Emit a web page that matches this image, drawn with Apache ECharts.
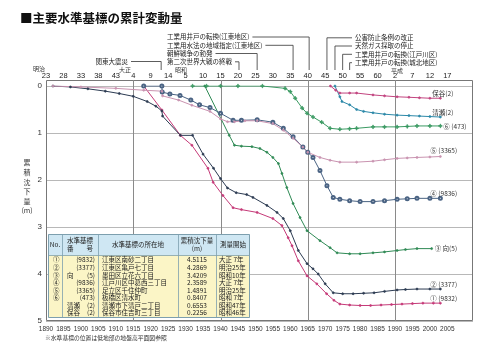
<!DOCTYPE html>
<html><head><meta charset="utf-8">
<script src="https://cdn.jsdelivr.net/npm/echarts@6/dist/echarts.min.js"></script>
<style>html,body{margin:0;padding:0;background:#fff}#c{width:499px;height:348px}</style>
</head><body><div id="c"></div>
<script>
// ---------- data ----------
const topTickLabels = ['23','28','33','38','43','4','9','14','5','10','15','20','25','30','35','40','45','50','55','60','2','7','12','17'];
const eraNames = ['明治','大正','昭和','平成'];
const gridYears = [1915,1940,1965,1990];

const seriesNames = ['① (9832)','② (3377)','③ 向(5)','④ (9836)','⑤ (3365)','⑥ (473)','清瀬(2)','保谷(2)'];
const s1 = [[1918,0],[1923.2,0.51],[1928.5,1.05],[1931.8,1.26],[1936.4,1.75],[1937.9,2.05],[1940.7,2.33],[1943.6,2.59],[1946,2.63],[1950.5,2.69],[1955,2.82],[1957.6,2.97],[1959.4,3.23],[1960.5,3.4],[1962.3,3.72],[1964.8,4.04],[1967.6,4.21],[1970.4,4.42],[1972.5,4.56],[1974.2,4.64],[1977,4.66],[1980,4.67],[1983,4.67],[1986,4.66],[1989,4.65],[1992,4.64],[1995,4.63],[1998,4.62],[2001,4.62],[2003,4.62]];
const s2 = [[1892,0],[1897,0.02],[1902,0.06],[1907,0.11],[1911,0.16],[1915,0.22],[1919,0.33],[1921.5,0.43],[1923.2,0.53],[1923.4,0.64],[1928.5,1.05],[1932,1.05],[1935,1.45],[1938,1.75],[1940,1.97],[1942,2.17],[1944.5,2.27],[1947.5,2.31],[1949.3,2.37],[1953.3,2.54],[1956.2,2.69],[1958,2.82],[1960,3.08],[1962.3,3.5],[1964.8,3.78],[1966.5,3.89],[1968,4.0],[1970,4.21],[1972.3,4.4],[1975,4.42],[1978,4.42],[1981,4.41],[1984,4.4],[1987,4.37],[1990.6,4.34],[1993,4.33],[1996.3,4.32],[2000,4.32],[2003,4.32]];
const s3 = [[1935.5,0],[1942.5,1.05],[1944,1.26],[1946,1.28],[1949,1.29],[1951.3,1.33],[1953.3,1.41],[1955,1.52],[1956.6,1.65],[1957.6,1.86],[1959,2.16],[1960.8,2.5],[1962.8,2.8],[1964.8,3.08],[1968.5,3.29],[1971.4,3.44],[1973.4,3.55],[1977,3.57],[1980,3.57],[1983.7,3.55],[1987,3.53],[1990.6,3.5],[1993,3.48],[1996.3,3.46],[2000.5,3.46]];
const s4 = [[1918,0],[1923.2,0],[1923.3,0.13],[1925.5,0.17],[1928.4,0.2],[1931.5,0.3],[1934,0.4],[1937,0.46],[1940,0.58],[1943.6,0.73],[1946,0.73],[1950.5,0.72],[1955,0.77],[1958,0.9],[1960.8,1.08],[1963.6,1.3],[1965,1.41],[1966.5,1.52],[1968.5,1.8],[1970.5,2.12],[1972.3,2.37],[1974.2,2.41],[1977,2.44],[1980,2.46],[1983.7,2.46],[1987,2.44],[1990.6,2.41],[1993.5,2.4],[1996.3,2.39],[2000,2.39],[2003,2.39]];
const s5 = [[1892,0],[1900,0.02],[1910,0.05],[1918,0.09],[1923.2,0.11],[1923.4,0.21],[1928,0.3],[1931.8,0.41],[1937,0.54],[1940,0.7],[1942,0.76],[1944,0.76],[1947,0.74],[1950.5,0.74],[1955,0.8],[1958,0.94],[1960.8,1.11],[1963.6,1.3],[1965,1.41],[1968.5,1.52],[1971.4,1.58],[1974.2,1.62],[1979,1.62],[1983.7,1.6],[1987,1.57],[1990.6,1.54],[1993.5,1.53],[1996.3,1.52],[2000,1.51],[2003,1.5]];
const s6 = [[1932,0],[1936,0],[1940,0],[1945,0],[1952,0],[1958.5,0.05],[1960,0.12],[1961.4,0.26],[1963.4,0.47],[1964.8,0.58],[1966.5,0.66],[1969,0.77],[1971.4,0.9],[1974.2,0.92],[1977,0.91],[1979,0.9],[1983.7,0.87],[1987,0.87],[1990.6,0.87],[1993.5,0.86],[1996.3,0.85],[2000,0.85],[2003,0.85]];
const sKiyose = [[1972.8,0],[1974.2,0.23],[1974.8,0.33],[1977,0.4],[1979,0.5],[1981,0.54],[1983.7,0.57],[1987,0.6],[1990.6,0.62],[1994,0.63],[1997,0.64],[2000,0.65],[2003,0.66]];
const sHoya = [[1971.5,0],[1973,0.09],[1974.2,0.15],[1977,0.15],[1979,0.15],[1983.7,0.19],[1987,0.21],[1990.6,0.23],[1994,0.24],[1997,0.25],[2000,0.26],[2003,0.26]];

const quakeName = '関東大震災', quakeYear = 1923;
const eventsLeft = ['工業用井戸の転換(江東地区)','工業用水法の地域指定(江東地区)','朝鮮戦争の勃発','第二次世界大戦の終戦'];
const eventsLeftYears = [1965.4,1960.8,1950.5,1945.3];
const eventsRight = ['公害防止条例の改正','天然ガス採取の停止','工業用井戸の転換(江戸川区)','工業用井戸の転換(城北地区)'];
const eventsRightYears = [1970.5,1972.8,1975,1977];

const tableHeader = ['No.','水準基標\n番　　号','水準基標の所在地','累積沈下量\n(m)','測量開始'];
const tableNo = ['①','②','③','④','⑤','⑥','',''];
const tablePrefix = ['','','向','','','','清瀬','保谷'];
const tableCode = ['(9832)','(3377)','(5)','(9836)','(3365)','(473)','(2)','(2)'];
const tableLoc = ['江東区南砂二丁目','江東区亀戸七丁目','墨田区立花六丁目','江戸川区中葛西三丁目','足立区千住仲町','板橋区清水町','清瀬市下清戸二丁目','保谷市住吉町三丁目'];
const tableVal = ['4.5115','4.2869','3.4209','2.3589','1.4891','0.8407','0.6553','0.2256'];
const tableStart = ['大正 7年','明治25年','昭和10年','大正 7年','明治25年','昭和 7年','昭和47年','昭和46年'];

// ---------- style / layout ----------
const FONT = '"Noto Sans CJK JP","Noto Sans",sans-serif';
const NFONT = '"Liberation Sans","Noto Sans",sans-serif';
const GL = 46, GR = 473, GT = 86, GB = 321, FRAME_TOP = 80;
const XMAX = 1890 + (GR - GL) / 3.49;
const colors = ['#c53a78','#2c3b52','#2f8a55','#4a6383','#c993b0','#3a9a62','#2b88a8','#c2447f'];
const symbols = ['circle','circle','circle','emptyCircle','circle','path://M4,0h2v4h4v2h-4v4h-2v-4h-4v-2h4z','circle','circle'];
const symSizes = [2,2,2,3,2,3.5,2,2];
const labelOffsets = [[-10,-5],[-10,-5],[3,0],[-10,-5],[-10,-6],[3,1],[-8,-4],[-8,-5]];
const allData = [s1,s2,s3,s4,s5,s6,sKiyose,sHoya];

const chart = echarts.init(document.getElementById('c'));

const series = allData.map((d,i)=>({
  type:'line', name:seriesNames[i], data:d, symbol:symbols[i], symbolSize:symSizes[i],
  showSymbol:true, animation:false, z:3,
  lineStyle:{color:colors[i], width:1},
  itemStyle:{color:colors[i], borderColor:colors[i], borderWidth:0.7}
}));

chart.setOption({
  animation:false,
  backgroundColor:'#fff',
  grid:{left:GL, right:499-GR, top:GT, bottom:348-GB},
  xAxis:[
    {type:'value', min:1890, max:XMAX, interval:5, position:'bottom',
     axisLine:{show:false}, axisTick:{show:false}, splitLine:{show:false},
     axisLabel:{fontSize:6.5, color:'#333', margin:5, fontFamily:NFONT, showMaxLabel:true,
       formatter:v=>{const k=v-1890; return (Math.abs(k%5)<1e-6 && v<=2005.01)? String(Math.round(v)) : '';}}},
    {type:'value', min:1890, max:XMAX, interval:5, position:'top',
     axisLine:{show:false}, axisTick:{show:false}, splitLine:{show:false},
     axisLabel:{fontSize:7.5, color:'#222', margin:6, fontFamily:NFONT,
       formatter:v=>{const k=(v-1890)/5; const i=Math.round(k); return (Math.abs(k-i)<1e-6 && i<topTickLabels.length)? topTickLabels[i] : '';}}}
  ],
  yAxis:{type:'value', inverse:true, min:0, max:5, interval:1,
    axisLine:{show:false}, axisTick:{show:false},
    axisLabel:{fontSize:8, color:'#333', margin:4, fontFamily:NFONT},
    splitLine:{lineStyle:{color:'#b8b8b8', width:1}}},
  series:series
});

// ---------- annotations ----------
const ctx = document.createElement('canvas').getContext('2d');
function tw(t, size){ ctx.font = size + 'px ' + FONT; return ctx.measureText(t).width; }
const xp = y => chart.convertToPixel({xAxisIndex:0}, y);
const g = [];
function txt(x,y,t,size,opt){ g.push({type:'text', x:x, y:y, z:50, silent:true,
  style:Object.assign({text:t, fontSize:size, fontFamily:FONT, fill:'#222', textAlign:'left', textVerticalAlign:'middle'}, opt||{})}); }
function pl(points, color, z){ g.push({type:'polyline', z:z||40, silent:true, shape:{points:points}, style:{stroke:color||'#333', lineWidth:0.8, fill:null}}); }

// title
txt(20,18.5,'■主要水準基標の累計変動量',12.5,{fontWeight:'bold', fill:'#111'});

// frame
g.push({type:'rect', z:1, silent:true, shape:{x:GL+0.5, y:FRAME_TOP+0.5, width:GR-GL-1, height:GB-FRAME_TOP-1}, style:{fill:null, stroke:'#777', lineWidth:1}});
// vertical grid lines
gridYears.forEach(y=>{ const px=Math.round(xp(y))+0.5; g.push({type:'line', z:1, silent:true, shape:{x1:px,y1:FRAME_TOP,x2:px,y2:GB}, style:{stroke:'#8a8a8a', lineWidth:1}}); });

// era names
const eraX = [39,125,181,397], eraY = [69,70,70,71];
eraNames.forEach((n,i)=>txt(eraX[i], eraY[i], n, 6, {textAlign:'center', fill:'#333'}));

// y axis title
txt(27,158,'累\n積\n沈\n下\n量\n(m)',7,{textAlign:'center', textVerticalAlign:'top', lineHeight:9.6, fill:'#333'});

// events
const EV = 6.5, LINE_END = 70;
{ const yy=61.5, px=xp(quakeYear); txt(128,yy,quakeName,EV,{textAlign:'right'}); pl([[131,yy],[px,yy],[px,LINE_END]]); }
const leftRowsY = [37,45.3,53.5,61.8];
eventsLeft.forEach((n,i)=>{ const yy=leftRowsY[i], px=xp(eventsLeftYears[i]); txt(167,yy,n,EV); const w=tw(n,EV); pl([[167+w+3,yy],[px,yy],[px,LINE_END]]); });
const rightRowsY = [37.8,46,54.3,62.7];
eventsRight.forEach((n,i)=>{ const yy=rightRowsY[i], px=xp(eventsRightYears[i]); txt(355,yy,n,EV); pl([[px,LINE_END],[px,yy],[352,yy]]); });

// series end labels
allData.forEach((d,i)=>{ const p=chart.convertToPixel({seriesIndex:i}, d[d.length-1]); txt(p[0]+labelOffsets[i][0], p[1]+labelOffsets[i][1], seriesNames[i], 6.5, {fill:'#333'}); });

// footnote
txt(45,338,'※水準基標の位置は低地部の地盤高平面図参照',5.8,{fill:'#333'});

// table
const TX = [48,62,98,178,216,250], TT = 234, TH = 255, TBOT = 318;
g.push({type:'rect', z:60, silent:true, shape:{x:TX[0],y:TT,width:TX[5]-TX[0],height:TH-TT}, style:{fill:'#cfe7f3', stroke:null}});
g.push({type:'rect', z:60, silent:true, shape:{x:TX[0],y:TH,width:TX[5]-TX[0],height:TBOT-TH}, style:{fill:'#fbf5c6', stroke:null}});
g.push({type:'rect', z:61, silent:true, shape:{x:TX[0]+0.5,y:TT+0.5,width:TX[5]-TX[0]-1,height:TBOT-TT-1}, style:{fill:null, stroke:'#7d9fae', lineWidth:1}});
for (let k=1;k<5;k++){ const x=TX[k]+0.5; g.push({type:'line', z:61, silent:true, shape:{x1:x,y1:TT,x2:x,y2:TBOT}, style:{stroke:'#7d9fae', lineWidth:0.8}}); }
g.push({type:'line', z:61, silent:true, shape:{x1:TX[0],y1:TH+0.5,x2:TX[5],y2:TH+0.5}, style:{stroke:'#7d9fae', lineWidth:0.8}});
const hdrCx = [55,80,138,197,233];
tableHeader.forEach((h,i)=>{ g.push({type:'text', z:62, silent:true, x:hdrCx[i], y:(TT+TH)/2, style:{text:h, fontSize:6.5, fontFamily:FONT, fill:'#222', textAlign:'center', textVerticalAlign:'middle', lineHeight:8.5}}); });
const rowY0 = 260, rowDY = 7.55;
tableLoc.forEach((_,r)=>{
  const y = rowY0 + r*rowDY;
  const add = (x,t,al)=>g.push({type:'text', z:62, silent:true, x:x, y:y, style:{text:t, fontSize:6.5, fontFamily:FONT, fill:'#222', textAlign:al, textVerticalAlign:'middle'}});
  add(53, tableNo[r], 'left');
  if (tablePrefix[r]) add(67, tablePrefix[r], 'left');
  add(95, tableCode[r], 'right');
  add(102, tableLoc[r], 'left');
  add(197, tableVal[r], 'center');
  add(219, tableStart[r], 'left');
});

chart.setOption({graphic:g});
</script></body></html>
